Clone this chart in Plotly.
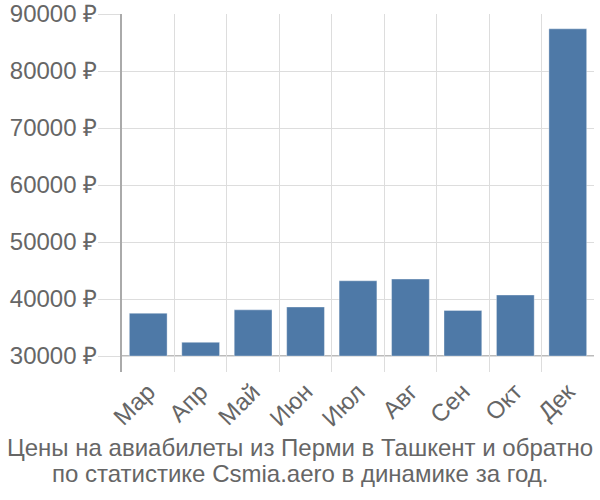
import plotly.graph_objects as go

months = ["Мар", "Апр", "Май", "Июн", "Июл", "Авг", "Сен", "Окт", "Дек"]
prices = [37500, 32400, 38100, 38600, 43200, 43500, 38000, 40700, 87400]
base_value = 30000
y_ticks = [30000, 40000, 50000, 60000, 70000, 80000, 90000]
title_lines = ["Цены на авиабилеты из Перми в Ташкент и обратно",
               "по статистике Csmia.aero в динамике за год."]

font_family = "Liberation Sans, Arial, sans-serif"
grid_color = "#dddddd"
text_color = "#666666"

L, R, T, B = 122, 6, 14, 128
W, H = 600, 500
plot_h = H - T - B
plot_w = W - L - R

fig = go.Figure()
fig.add_trace(go.Bar(
    x=months,
    y=[p - base_value for p in prices],
    base=[base_value] * len(prices),
    marker=dict(color="#4e79a7", line=dict(color="rgba(255,255,255,0.35)", width=1)),
    hovertext=[f"{p} ₽" for p in prices],
))

annotations = []
for i, line in enumerate(title_lines):
    center_px = 447 + 27 * i
    annotations.append(dict(
        text=line,
        xref="paper", yref="paper",
        x=(300 - L) / plot_w, y=(H - B - center_px) / plot_h,
        xanchor="center", yanchor="middle", showarrow=False,
        font=dict(size=24, color=text_color, family=font_family),
    ))

fig.update_layout(
    width=W, height=H,
    margin=dict(l=L, r=R, t=T, b=B),
    plot_bgcolor="white", paper_bgcolor="white",
    bargap=0.28,
    showlegend=False,
    font=dict(family=font_family, color=text_color),
    xaxis=dict(
        type="category",
        tickson="boundaries",
        showgrid=True, gridcolor=grid_color, gridwidth=1,
        ticks="", tickangle=-45,
        tickfont=dict(size=24, color=text_color),
        showline=False, zeroline=False, automargin=False,
    ),
    yaxis=dict(
        range=[27200, 90000],
        tickvals=y_ticks,
        ticktext=[f"{v} ₽" for v in y_ticks],
        showgrid=True, gridcolor=grid_color, gridwidth=1,
        ticks="outside", ticklen=22, tickcolor=grid_color,
        ticklabelstandoff=-4,
        tickfont=dict(size=24, color=text_color),
        showline=True, linecolor="#aaaaaa", linewidth=2,
        zeroline=False, automargin=False,
    ),
    annotations=annotations,
    shapes=[dict(type="line", xref="paper", yref="y", x0=0, x1=1,
                 y0=base_value, y1=base_value,
                 line=dict(color="#bbbbbb", width=2), layer="below")],
)
fig.write_html("out.html")
